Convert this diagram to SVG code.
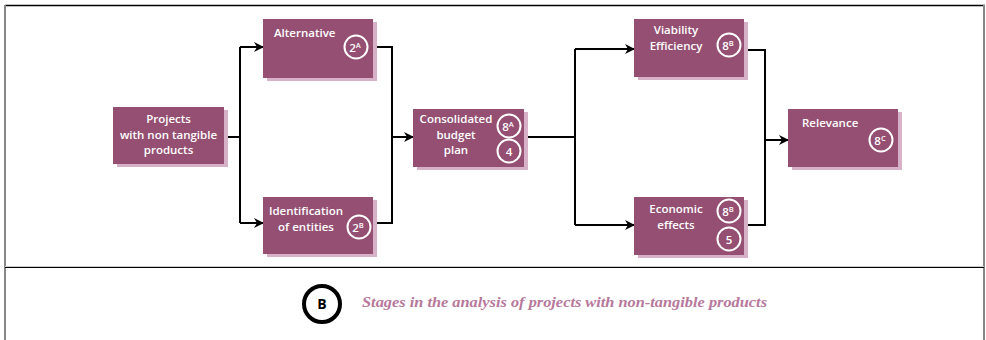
<svg xmlns="http://www.w3.org/2000/svg" width="986" height="340" viewBox="0 0 986 340">
<defs>
<style>
.box{fill:#944f72}
.sh{fill:#d6b1c7}
.t{font-family:"Open Sans","Liberation Sans",sans-serif;font-weight:600;font-size:11.5px;fill:#ffffff}
.c{fill:none;stroke:#ffffff;stroke-width:2}
.n{font-family:"Open Sans","Liberation Sans",sans-serif;font-weight:600;font-size:11.5px;fill:#ffffff;text-anchor:middle}
.sup{font-size:7.5px}
.ln{fill:none;stroke:#000000;stroke-width:2}
</style>
<marker id="arr" viewBox="0 0 10 10" refX="9" refY="5" markerWidth="10" markerHeight="10" markerUnits="userSpaceOnUse" orient="auto">
<path d="M0,0 L10,5 L0,10 L3,5 Z" fill="#000"/>
</marker>
</defs>
<rect x="0" y="0" width="986" height="340" fill="#ffffff"/>
<g id="frame">
<line x1="5" y1="5.5" x2="985" y2="5.5" stroke="#000" stroke-width="1.5"/>
<line x1="5" y1="5" x2="5" y2="340" stroke="#888" stroke-width="2"/>
<line x1="984" y1="5" x2="984" y2="340" stroke="#888" stroke-width="2"/>
<line x1="5" y1="266.5" x2="984" y2="266.5" stroke="#ccc" stroke-width="1"/>
<line x1="5" y1="267.5" x2="984" y2="267.5" stroke="#000" stroke-width="1"/>
</g>
<g id="connectors">
<polyline class="ln" points="224,137 240,137"/>
<polyline class="ln" points="240,47 240,223"/>
<polyline class="ln" points="240,47 263,47" marker-end="url(#arr)"/>
<polyline class="ln" points="240,223 263,223" marker-end="url(#arr)"/>
<polyline class="ln" points="377,47 392,47 392,223 377,223"/>
<polyline class="ln" points="392,137 413,137" marker-end="url(#arr)"/>
<polyline class="ln" points="527,137 575,137"/>
<polyline class="ln" points="575,49 575,225"/>
<polyline class="ln" points="575,49 634,49" marker-end="url(#arr)"/>
<polyline class="ln" points="575,225 634,225" marker-end="url(#arr)"/>
<polyline class="ln" points="747,50 765,50 765,225 747,225"/>
<polyline class="ln" points="765,140 788,140" marker-end="url(#arr)"/>
</g>
<g id="projects">
<rect class="sh" x="117" y="110" width="111" height="57"/>
<rect class="box" x="113" y="107" width="111" height="57"/>
<text class="n" x="168.5" y="123">Projects</text>
<text class="n" x="168.5" y="138.5">with non tangible</text>
<text class="n" x="168.5" y="153.5">products</text>
</g>
<g id="alternative">
<rect class="sh" x="267" y="22" width="110" height="59"/>
<rect class="box" x="263" y="19" width="110" height="59"/>
<text class="t" x="274" y="37">Alternative</text>
<circle class="c" cx="356" cy="47" r="11.5"/>
<text class="n" x="355" y="51.5">2<tspan class="sup" dy="-4">A</tspan></text>
</g>
<g id="identification">
<rect class="sh" x="267" y="200" width="110" height="57"/>
<rect class="box" x="263" y="197" width="110" height="57"/>
<text class="n" x="306" y="215">Identification</text>
<text class="n" x="306" y="230.5">of entities</text>
<circle class="c" cx="359" cy="227" r="11.5"/>
<text class="n" x="358" y="231.5">2<tspan class="sup" dy="-4">B</tspan></text>
</g>
<g id="consolidated">
<rect class="sh" x="417" y="112" width="111" height="58"/>
<rect class="box" x="413" y="109" width="111" height="58"/>
<text class="n" x="456" y="123">Consolidated</text>
<text class="n" x="456" y="138.5">budget</text>
<text class="n" x="456" y="154">plan</text>
<circle class="c" cx="509" cy="126" r="11.5"/>
<text class="n" x="508" y="130.5">8<tspan class="sup" dy="-4">A</tspan></text>
<circle class="c" cx="509" cy="151" r="11.5"/>
<text class="n" x="509" y="155.5">4</text>
</g>
<g id="viability">
<rect class="sh" x="638" y="22" width="110" height="58"/>
<rect class="box" x="634" y="19" width="110" height="58"/>
<text class="n" x="676" y="34">Viability</text>
<text class="n" x="676" y="49.5">Efficiency</text>
<circle class="c" cx="729" cy="45" r="11.5"/>
<text class="n" x="728" y="49.5">8<tspan class="sup" dy="-4">B</tspan></text>
</g>
<g id="economic">
<rect class="sh" x="638" y="200" width="110" height="58"/>
<rect class="box" x="634" y="197" width="110" height="58"/>
<text class="n" x="676" y="213">Economic</text>
<text class="n" x="676" y="228.5">effects</text>
<circle class="c" cx="729" cy="211" r="11.5"/>
<text class="n" x="728" y="215.5">8<tspan class="sup" dy="-4">B</tspan></text>
<circle class="c" cx="729" cy="239" r="11.5"/>
<text class="n" x="729" y="243.5">5</text>
</g>
<g id="relevance">
<rect class="sh" x="792" y="112" width="110" height="58"/>
<rect class="box" x="788" y="109" width="110" height="58"/>
<text class="t" x="802" y="127">Relevance</text>
<circle class="c" cx="881" cy="140" r="11.5"/>
<text class="n" x="880" y="144.5">8<tspan class="sup" dy="-4">C</tspan></text>
</g>
<g id="caption">
<circle cx="322" cy="304" r="18" fill="none" stroke="#000" stroke-width="4"/>
<text x="322" y="309" text-anchor="middle" font-family="Open Sans, Liberation Sans, sans-serif" font-weight="700" font-size="14" fill="#000">B</text>
<text x="362" y="307" font-family="Liberation Serif, serif" font-style="italic" font-weight="700" font-size="14.5" fill="#b7789b" textLength="405" lengthAdjust="spacingAndGlyphs">Stages in the analysis of projects with non-tangible products</text>
</g>
</svg>
